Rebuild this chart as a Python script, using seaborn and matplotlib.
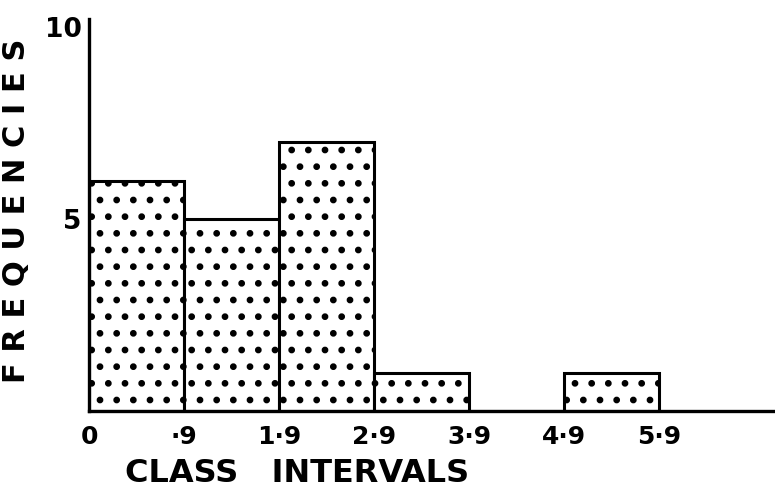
import numpy as np
import pandas as pd
import matplotlib
matplotlib.use("Agg")
import matplotlib.pyplot as plt
import seaborn as sns

# class intervals drawn as equal-width bins; edge labels as printed
edge_labels = ["0", "·9", "1·9", "2·9", "3·9", "4·9", "5·9"]
frequencies = [6, 5, 7, 1, 0, 1]
y_ticks = [5, 10]
y_tick_labels = ["5", "10"]

sns.set_style("white")
plt.rcParams["font.family"] = ["DejaVu Sans"]
plt.rcParams["text.color"] = "black"
plt.rcParams["xtick.color"] = "black"
plt.rcParams["ytick.color"] = "black"
plt.rcParams["axes.labelcolor"] = "black"
plt.rcParams["hatch.linewidth"] = 2.4

edges = list(range(len(edge_labels)))
df = pd.DataFrame({"mid": np.array(edges[:-1]) + 0.5, "freq": frequencies})

fig = plt.figure(figsize=(7.75, 4.93), dpi=100)
ax = fig.add_axes([0.115, 0.166, 0.885, 0.795])

sns.histplot(data=df, x="mid", weights="freq", bins=edges, ax=ax,
             color="white", edgecolor="black", linewidth=2.2,
             hatch=".", alpha=1.0)

ax.set_xlim(0, 7.22)
ax.set_ylim(0, 10.2)
sns.despine(ax=ax)
for s in ["left", "bottom"]:
    ax.spines[s].set_linewidth(2.4)
    ax.spines[s].set_color("black")

ax.set_xticks(edges)
ax.set_xticklabels(edge_labels, fontsize=18, fontweight="bold")
ax.tick_params(axis="x", length=0, pad=10)
ax.set_yticks(y_ticks)
ax.set_yticklabels(y_tick_labels, fontsize=19, fontweight="bold")
ax.tick_params(axis="y", direction="inout", length=7, width=1.5, pad=2)

ax.set_xlabel("CLASS   INTERVALS", fontsize=23, fontweight="bold")
ax.xaxis.set_label_coords(0.053, -0.12)
ax.xaxis.label.set_horizontalalignment("left")
ax.set_ylabel("F R E Q U E N C I E S", fontsize=22, fontweight="bold")
ax.yaxis.set_label_coords(-0.085, 0.51)

fig.savefig("out.png", dpi=100)
